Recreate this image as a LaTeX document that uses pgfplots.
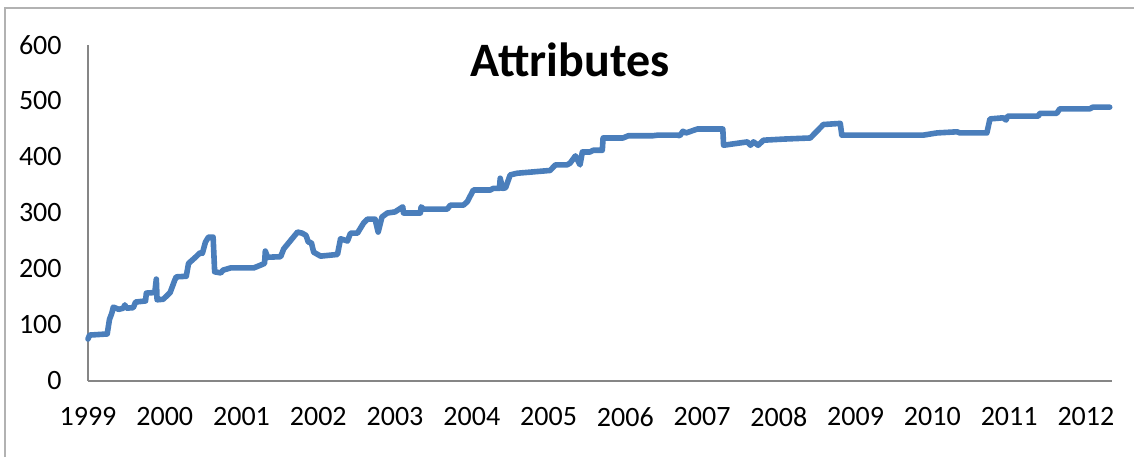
\documentclass[border=0pt]{standalone}
\usepackage{pgfplots}
\pgfplotsset{compat=1.18}
\usepackage{fontspec}
\setmainfont{Carlito}
\definecolor{xlblue}{RGB}{74,126,187}
\definecolor{xlgray}{RGB}{134,134,134}

\begin{document}
\begin{tikzpicture}
\useasboundingbox (0,0) rectangle (567pt,228.5pt);
% chart frame (only top and left edges are visible in the crop)
\draw[gray!60, line width=0.8pt] (2.5pt,0) -- (2.5pt,224.5pt) -- (567pt,224.5pt);

\begin{axis}[
  at={(44pt,38pt)}, anchor=south west,
  scale only axis,
  width=512pt, height=168pt,
  xmin=1999, xmax=2012.34,
  ymin=0, ymax=600,
  axis x line*=bottom, axis y line*=left,
  axis line style={xlgray, line width=0.8pt, -},
  xtick={1999,2000,...,2012},
  ytick={0,100,...,600},
  major tick length=0pt,
  /pgf/number format/assume math mode=true,
  /pgf/number format/1000 sep={},
  tick label style={font=\fontsize{14}{17}\selectfont, inner sep=0pt},
  xticklabel style={yshift=-13pt},
  yticklabel style={xshift=-13pt},
  clip=false,
]
\addplot[xlblue, line width=2.8pt, line join=round, line cap=round] table {
1999.00 75
1999.02 82
1999.25 84
1999.28 110
1999.31 121
1999.33 132
1999.40 128
1999.46 130
1999.48 136
1999.50 130
1999.59 131
1999.62 141
1999.75 143
1999.76 157
1999.87 158
1999.89 182
1999.90 145
1999.98 146
2000.07 158
2000.13 180
2000.15 186
2000.28 187
2000.31 210
2000.40 221
2000.46 229
2000.49 228
2000.53 248
2000.57 257
2000.63 257
2000.65 195
2000.73 193
2000.76 198
2000.86 202
2001.16 202
2001.25 207
2001.30 210
2001.31 232
2001.34 221
2001.51 222
2001.55 236
2001.73 266
2001.79 264
2001.84 260
2001.87 248
2001.91 247
2001.94 230
2002.03 223
2002.25 226
2002.29 254
2002.38 250
2002.42 264
2002.51 264
2002.59 282
2002.64 289
2002.74 289
2002.78 266
2002.83 293
2002.90 300
2003.00 302
2003.10 311
2003.11 300
2003.33 300
2003.34 311
2003.37 307
2003.68 307
2003.72 314
2003.89 314
2003.94 320
2004.02 341
2004.24 341
2004.28 344
2004.36 344
2004.37 362
2004.40 344
2004.44 345
2004.50 368
2004.59 371
2005.02 376
2005.09 386
2005.24 386
2005.28 389
2005.35 402
2005.41 386
2005.44 409
2005.54 409
2005.58 412
2005.70 412
2005.71 434
2005.97 434
2006.04 438
2006.36 438
2006.42 439
2006.68 439
2006.71 438
2006.75 446
2006.79 443
2006.94 450
2007.27 450
2007.28 421
2007.59 427
2007.63 421
2007.67 427
2007.73 421
2007.80 430
2008.06 432
2008.41 434
2008.58 458
2008.80 460
2008.82 439
2009.19 439
2009.88 439
2010.06 443
2010.32 445
2010.36 443
2010.71 443
2010.75 468
2010.92 470
2010.96 466
2010.98 473
2011.38 473
2011.40 478
2011.62 478
2011.66 486
2012.05 486
2012.09 489
2012.31 489
};
\end{axis}

\node[font=\fontsize{24}{28}\selectfont\bfseries] at (285pt,198.5pt) {Attributes};
\end{tikzpicture}
\end{document}
